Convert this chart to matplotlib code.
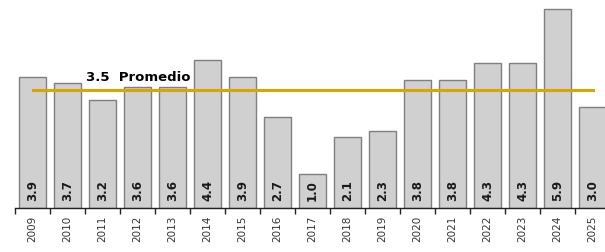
import matplotlib
matplotlib.use("Agg")
import matplotlib.pyplot as plt
import numpy as np

years = ["2009", "2010", "2011", "2012", "2013", "2014", "2015", "2016", "2017",
         "2018", "2019", "2020", "2021", "2022", "2023", "2024", "2025"]
values = [3.9, 3.7, 3.2, 3.6, 3.6, 4.4, 3.9, 2.7, 1.0,
          2.1, 2.3, 3.8, 3.8, 4.3, 4.3, 5.9, 3.0]
promedio = 3.5
promedio_label = "3.5  Promedio"

fig = plt.figure(figsize=(6.05, 2.53), dpi=100)
ax = fig.add_axes([15 / 605, 44 / 253, 595 / 605, 202 / 253])

x = np.arange(len(years))
ax.bar(x, values, width=0.77, color="#d0d0d0", edgecolor="#7f7f7f", linewidth=1.0, zorder=2)
ax.plot([x[0], x[-1]], [promedio, promedio], color="#dba400", linewidth=2.2, zorder=3)
ax.text(1.52, promedio + 0.22, promedio_label, fontsize=9.5, fontweight="bold",
        ha="left", va="bottom", zorder=4)

for xi, v in zip(x, values):
    ax.text(xi, 0.25, f"{v:.1f}", rotation=90, ha="center", va="bottom",
            fontsize=8.5, fontweight="bold", color="#1a1a1a", zorder=4)

ax.set_xlim(-0.5, len(years) - 0.5)
ax.set_ylim(0, 6.0)
ax.set_xticks(x)
ax.set_xticklabels(years, rotation=90, fontsize=7.5, color="#333333")
ax.tick_params(axis="x", length=0, pad=5)
ax.set_xticks(np.arange(len(years) + 1) - 0.5, minor=True)
ax.tick_params(axis="x", which="minor", length=4, width=1, color="#222222")
ax.set_yticks([])
for s in ["top", "right", "left"]:
    ax.spines[s].set_visible(False)
ax.spines["bottom"].set_color("#222222")
ax.spines["bottom"].set_linewidth(1.0)

fig.savefig("out.png", dpi=100)
